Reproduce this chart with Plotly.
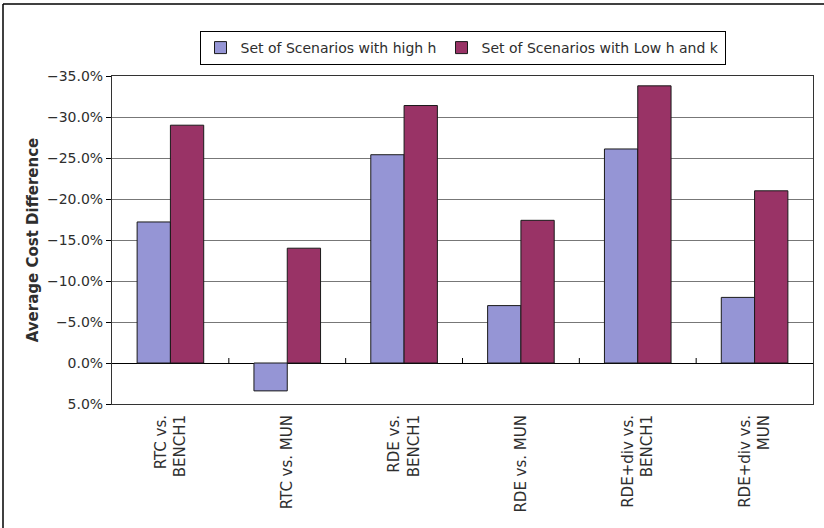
import plotly.graph_objects as go

# Comparison pairs (x categories)
categories = [
    "RTC vs.<br>BENCH1",
    "RTC vs. MUN",
    "RDE vs.<br>BENCH1",
    "RDE vs. MUN",
    "RDE+div vs.<br>BENCH1",
    "RDE+div vs.<br>MUN",
]

# Average cost difference, in percent
high_h = [-17.2, 3.4, -25.4, -7.0, -26.1, -8.0]
low_h_k = [-29.0, -14.0, -31.4, -17.4, -33.8, -21.0]

series_names = ["Set of Scenarios with high h", "Set of Scenarios with Low h and k"]
series_colors = ["#9595D5", "#993366"]

y_ticks = [-35, -30, -25, -20, -15, -10, -5, 0, 5]

FONT = "DejaVu Sans"
TEXT = "#2e2e2e"

fig = go.Figure()
for name, vals, col in zip(series_names, [high_h, low_h_k], series_colors):
    fig.add_trace(go.Bar(
        x=categories,
        y=[v / 100 for v in vals],
        name=name,
        marker=dict(color=col, line=dict(color="#1a1a1a", width=1)),
    ))

# small upward ticks on the zero line between categories
shapes = []
for i in range(1, len(categories)):
    shapes.append(dict(
        type="line", xref="x", yref="y", ysizemode="pixel", yanchor=0,
        x0=i - 0.5, x1=i - 0.5, y0=0, y1=5,
        line=dict(color="#000", width=1),
    ))

# outer frame (top and left edges)
L, R, T, B = 112, 11, 76, 124
W, H = 824, 528
pw, ph = W - L - R, H - T - B
fx0 = (3 - L) / pw
fy1 = 1 + (T - 4) / ph
shapes.append(dict(type="line", xref="paper", yref="paper",
                   x0=fx0, x1=(W - L + 5) / pw, y0=fy1, y1=fy1,
                   line=dict(color="#000", width=1.5)))
shapes.append(dict(type="line", xref="paper", yref="paper",
                   x0=fx0, x1=fx0, y0=fy1, y1=-(B + 5) / ph,
                   line=dict(color="#000", width=1.5)))

fig.update_layout(
    width=W, height=H,
    margin=dict(l=L, r=R, t=T, b=B),
    paper_bgcolor="white", plot_bgcolor="white",
    font=dict(family=FONT, color=TEXT),
    barmode="group", bargap=0.43, bargroupgap=0,
    shapes=shapes,
    legend=dict(
        orientation="h", x=0.5, xanchor="center", y=1 + (T - 31) / ph, yanchor="top",
        bordercolor="#000", borderwidth=1, bgcolor="white",
        font=dict(family=FONT, size=14, color=TEXT),
        itemwidth=30, tracegroupgap=0, entrywidthmode="pixels",
    ),
    xaxis=dict(
        tickangle=-90, tickfont=dict(family=FONT, size=15, color=TEXT),
        showline=True, linecolor="#333", linewidth=1, mirror=True,
        ticks="", showgrid=False, ticklabelstandoff=4,
    ),
    yaxis=dict(
        range=[0.05, -0.35], tickvals=[v / 100 for v in y_ticks], tickformat=".1%",
        tickfont=dict(family=FONT, size=14, color=TEXT),
        ticks="outside", ticklen=5, tickcolor="#000",
        showline=True, linecolor="#333", linewidth=1, mirror=True,
        showgrid=True, gridcolor="#777", gridwidth=1,
        zeroline=True, zerolinecolor="#000", zerolinewidth=1,
        title=dict(text="<b>Average Cost Difference</b>",
                   font=dict(family=FONT, size=15, color=TEXT), standoff=4),
    ),
)

fig.write_html("out.html")
